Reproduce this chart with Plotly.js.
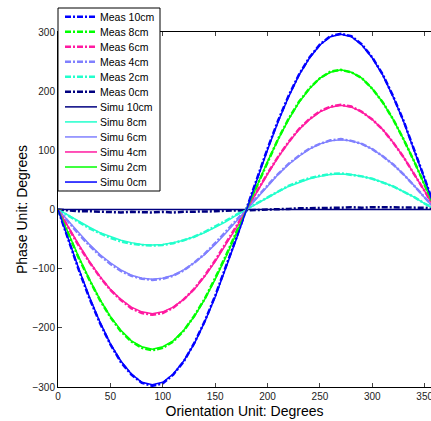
<!DOCTYPE html>
<html><head><meta charset="utf-8">
<script src="https://cdn.plot.ly/plotly-3.0.1.min.js"></script>
<style>html,body{margin:0;padding:0;background:#fff}#chart{width:431px;height:421px}</style>
</head><body><div id="chart"></div>
<script>
const orientation = [0,10,20,30,40,50,60,70,80,90,100,110,120,130,140,150,160,170,180,190,200,210,220,230,240,250,260,270,280,290,300,310,320,330,340,350,360];

const meas10 = [0,-53,-103,-150,-192,-228,-258,-279,-293,-298,-294,-279,-257,-226,-189,-146,-99,-49,2,53,103,150,192,228,257,279,293,297,293,279,257,228,191,149,102,52,1];
const meas8  = [0,-42,-83,-119,-153,-182,-206,-223,-234,-238,-234,-223,-205,-180,-151,-116,-79,-39,1,42,82,119,153,182,205,222,233,236,232,222,204,181,152,118,81,41,1];
const meas6  = [0,-32,-62,-89,-114,-136,-153,-167,-175,-178,-175,-166,-152,-134,-112,-86,-58,-29,1,32,61,89,114,136,153,166,174,177,174,165,152,135,113,88,60,31,1];
const meas4  = [0,-22,-42,-61,-78,-92,-104,-112,-117,-119,-117,-112,-103,-90,-75,-57,-38,-18,1,21,41,60,77,91,103,111,117,119,116,111,102,90,76,59,40,20,1];
const meas2  = [0,-11,-22,-32,-40,-48,-54,-58,-60,-61,-60,-57,-52,-46,-38,-29,-19,-9,1,11,21,31,40,47,53,57,60,61,59,56,52,46,39,30,21,10,1];
const meas0  = [0,-2,-3,-3,-4,-4,-5,-4,-5,-5,-4,-5,-4,-4,-3,-3,-2,-2,-1,-1,0,0,1,2,2,3,3,3,4,3,4,4,4,3,3,3,2];

const simu10 = [0,0,0,0,0,0,0,0,0,0,0,0,0,0,0,0,0,0,0,0,0,0,0,0,0,0,0,0,0,0,0,0,0,0,0,0,0];
const simu8  = [0,-10,-21,-30,-39,-46,-52,-56,-59,-60,-59,-56,-52,-46,-39,-30,-21,-10,0,10,21,30,39,46,52,56,59,60,59,56,52,46,39,30,21,10,0];
const simu6  = [0,-20,-40,-59,-76,-90,-102,-111,-116,-118,-116,-111,-102,-90,-76,-59,-40,-20,0,20,40,59,76,90,102,111,116,118,116,111,102,90,76,59,40,20,0];
const simu4  = [0,-31,-60,-88,-113,-135,-152,-165,-173,-176,-173,-165,-152,-135,-113,-88,-60,-31,0,31,60,88,113,135,152,165,173,176,173,165,152,135,113,88,60,31,0];
const simu2  = [0,-41,-81,-118,-152,-181,-204,-222,-232,-236,-232,-222,-204,-181,-152,-118,-81,-41,0,41,81,118,152,181,204,222,232,236,232,222,204,181,152,118,81,41,0];
const simu0  = [0,-51,-101,-148,-190,-227,-256,-278,-292,-296,-292,-278,-256,-227,-190,-148,-101,-51,0,51,101,148,190,227,256,278,292,296,292,278,256,227,190,148,101,51,0];

const names = ['Meas 10cm','Meas 8cm','Meas 6cm','Meas 4cm','Meas 2cm','Meas 0cm','Simu 10cm','Simu 8cm','Simu 6cm','Simu 4cm','Simu 2cm','Simu 0cm'];
const series = [meas10,meas8,meas6,meas4,meas2,meas0,simu10,simu8,simu6,simu4,simu2,simu0];
const colors = ['#0000ff','#00ff00','#ff1aa0','#8080ff','#22ffcc','#000080','#000080','#22ffcc','#8080ff','#ff1aa0','#00ff00','#0000ff'];
const DASH = '6px,2px,2px,2px';

const traces = series.map((y,i)=>({
  x: orientation, y: y, name: names[i], type:'scatter', mode:'lines', showlegend:false,
  line: i<6 ? {color:colors[i], width:2.5, dash:DASH} : {color:colors[i], width:1.5}
}));

// legend box built in paper coordinates (plot area: x 58..431 px, y 32..387 px)
const L=58, T=32, W=373, H=355;
const px = v => (v-L)/W, py = v => (T+H-v)/H;
const shapes = [{type:'rect', xref:'paper', yref:'paper', x0:px(58), x1:px(160), y0:py(8), y1:py(191),
  fillcolor:'#fff', line:{color:'#000', width:1}, layer:'above'}];
const annotations = [];
names.forEach((n,i)=>{
  const yy = 16.7 + 15.03*i;
  shapes.push({type:'line', xref:'paper', yref:'paper', x0:px(65), x1:px(97), y0:py(yy), y1:py(yy),
    line: i<6 ? {color:colors[i], width:2.5, dash:DASH} : {color:colors[i], width:1.5}, layer:'above'});
  annotations.push({xref:'paper', yref:'paper', x:px(98), y:py(yy), xanchor:'left', yanchor:'middle',
    text:n, showarrow:false, font:{size:10.5, color:'#000'}});
});

const layout = {
  width:431, height:421,
  margin:{l:58, r:0, t:32, b:34},
  paper_bgcolor:'#fff', plot_bgcolor:'#fff',
  font:{family:'Arial, Liberation Sans, sans-serif', color:'#000'},
  showlegend:false,
  shapes: shapes, annotations: annotations,
  xaxis:{range:[0,356], tickvals:[0,50,100,150,200,250,300,350], ticks:'inside', ticklen:4,
         showline:true, linecolor:'#000', linewidth:1, mirror:'ticks', showgrid:false, zeroline:false,
         ticklabeloverflow:'allow',
         tickfont:{size:10, color:'#222'},
         title:{text:'Orientation Unit: Degrees', font:{size:14, color:'#000'}, standoff:5}},
  yaxis:{range:[-300,300], tickvals:[-300,-200,-100,0,100,200,300], ticks:'inside', ticklen:4,
         showline:true, linecolor:'#000', linewidth:1, showgrid:false, zeroline:false,
         tickfont:{size:10, color:'#222'},
         title:{text:'Phase Unit: Degrees', font:{size:14, color:'#000'}, standoff:1}}
};
Plotly.newPlot('chart', traces, layout, {displayModeBar:false, staticPlot:true});
</script></body></html>
